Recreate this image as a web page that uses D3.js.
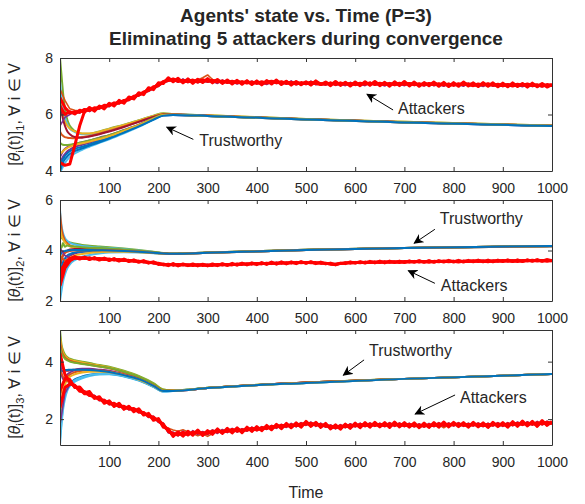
<!DOCTYPE html>
<meta charset="utf-8">
<script src="https://d3js.org/d3.v7.min.js"></script>
<style>
  body { margin: 0; background: #fff; }
  text { font-family: "Liberation Sans", Arial, Helvetica, sans-serif; fill: #262626; }
</style>
<div id="chart"></div>
<script>

// sample times
var tTrust = [0, 3, 6, 10, 15, 20, 30, 45, 60, 80, 100, 130, 160, 190, 210, 230, 300, 500, 700, 1000];
var tAtt = d3.range(0, 1001, 10);
var xTicks = [100, 200, 300, 400, 500, 600, 700, 800, 900, 1000];

// ---- component 1 ----
var yTicks1 = [4, 6, 8];
var trust1 = [
  [8.0, 7.4, 6.8, 6.2, 5.8, 5.6, 5.42, 5.32, 5.32, 5.4, 5.5, 5.64, 5.8, 5.96, 6.04, 6.02, 5.97, 5.84, 5.74, 5.61],
  [7.2, 6.6, 6.2, 5.9, 5.65, 5.5, 5.38, 5.3, 5.3, 5.38, 5.48, 5.62, 5.78, 5.94, 6.02, 6.01, 5.96, 5.83, 5.73, 5.6],
  [6.6, 6.2, 5.95, 5.75, 5.6, 5.5, 5.4, 5.33, 5.33, 5.39, 5.49, 5.63, 5.79, 5.95, 6.03, 6.01, 5.97, 5.84, 5.74, 5.61],
  [5.4, 5.3, 5.25, 5.2, 5.18, 5.17, 5.16, 5.2, 5.24, 5.32, 5.42, 5.58, 5.75, 5.92, 6.01, 6.0, 5.96, 5.83, 5.73, 5.6],
  [6.4, 6.1, 5.85, 5.6, 5.4, 5.3, 5.2, 5.18, 5.22, 5.3, 5.4, 5.56, 5.74, 5.91, 6.0, 6.0, 5.96, 5.83, 5.73, 5.6],
  [4.5, 4.6, 4.7, 4.78, 4.85, 4.9, 4.96, 5.02, 5.08, 5.18, 5.27, 5.45, 5.64, 5.86, 5.98, 5.99, 5.95, 5.83, 5.73, 5.6],
  [4.0, 4.05, 4.15, 4.28, 4.4, 4.5, 4.62, 4.75, 4.86, 5.0, 5.12, 5.33, 5.56, 5.81, 5.96, 5.98, 5.95, 5.82, 5.72, 5.59],
  [4.3, 4.4, 4.5, 4.6, 4.7, 4.76, 4.85, 4.93, 5.0, 5.1, 5.2, 5.4, 5.6, 5.84, 5.97, 5.98, 5.95, 5.82, 5.72, 5.59],
  [4.2, 4.3, 4.42, 4.53, 4.63, 4.7, 4.78, 4.86, 4.94, 5.06, 5.18, 5.38, 5.59, 5.83, 5.97, 5.98, 5.95, 5.82, 5.72, 5.59],
  [5.0, 4.95, 4.93, 4.92, 4.92, 4.93, 4.96, 5.02, 5.08, 5.17, 5.27, 5.44, 5.63, 5.87, 5.99, 5.99, 5.95, 5.83, 5.73, 5.6],
  [4.6, 4.65, 4.7, 4.76, 4.82, 4.86, 4.92, 4.98, 5.04, 5.13, 5.23, 5.42, 5.62, 5.85, 5.98, 5.99, 5.95, 5.82, 5.72, 5.6],
  [4.0, 4.15, 4.3, 4.42, 4.52, 4.6, 4.7, 4.8, 4.9, 5.02, 5.15, 5.36, 5.58, 5.82, 5.96, 5.98, 5.95, 5.82, 5.72, 5.59]
];
var att1 = [
  [6.9, 6.5, 6.2, 6.15, 6.12, 6.14, 6.21, 6.19, 6.28, 6.27,
   6.37, 6.36, 6.44, 6.5, 6.54, 6.64, 6.7, 6.79, 6.86, 6.95,
   7.06, 7.14, 7.24, 7.19, 7.23, 7.17, 7.24, 7.18, 7.22, 7.3,
   7.4, 7.24, 7.16, 7.2, 7.15, 7.19, 7.14, 7.18, 7.12, 7.17,
   7.12, 7.15, 7.1, 7.16, 7.13, 7.17, 7.12, 7.16, 7.1, 7.12,
   7.1, 7.13, 7.08, 7.12, 7.09, 7.1, 7.07, 7.11, 7.06, 7.11,
   7.07, 7.1, 7.06, 7.11, 7.08, 7.09, 7.07, 7.11, 7.06, 7.09,
   7.07, 7.11, 7.07, 7.1, 7.05, 7.08, 7.04, 7.1, 7.06, 7.09,
   7.05, 7.07, 7.03, 7.09, 7.04, 7.07, 7.02, 7.06, 7.05, 7.03,
   7.06, 7.03, 7.07, 7.04, 7.02, 7.05, 7.03, 7.07, 7.02, 7.04,
   7.02],
  [5.6, 5.9, 6.0, 6.1, 6.05, 6.2, 6.1, 6.22, 6.2, 6.3,
   6.28, 6.42, 6.38, 6.48, 6.5, 6.62, 6.66, 6.75, 6.82, 6.92,
   7.0, 7.12, 7.18, 7.22, 7.14, 7.26, 7.13, 7.2, 7.12, 7.19,
   7.14, 7.18, 7.1, 7.22, 7.11, 7.16, 7.08, 7.15, 7.13, 7.18,
   7.08, 7.13, 7.06, 7.16, 7.1, 7.14, 7.07, 7.19, 7.05, 7.11,
   7.06, 7.18, 7.05, 7.1, 7.04, 7.13, 7.03, 7.09, 7.02, 7.14,
   7.03, 7.09, 7.02, 7.14, 7.04, 7.08, 7.01, 7.13, 7.03, 7.07,
   7.02, 7.12, 7.03, 7.07, 7.01, 7.11, 7.02, 7.06, 7.0, 7.1,
   7.02, 7.06, 7.0, 7.11, 7.01, 7.05, 6.99, 7.1, 7.0, 7.04,
   6.99, 7.09, 7.0, 7.04, 6.98, 7.08, 6.99, 7.03, 6.98, 7.07,
   7.0],
  [4.3, 4.2, 4.25, 4.9, 5.6, 6.12, 6.2, 6.16, 6.27, 6.26,
   6.36, 6.35, 6.45, 6.46, 6.57, 6.6, 6.72, 6.76, 6.9, 6.93,
   7.08, 7.13, 7.25, 7.2, 7.24, 7.15, 7.22, 7.17, 7.21, 7.16,
   7.23, 7.17, 7.2, 7.14, 7.18, 7.12, 7.17, 7.11, 7.16, 7.1,
   7.15, 7.09, 7.14, 7.18, 7.12, 7.16, 7.1, 7.14, 7.08, 7.13,
   7.09, 7.14, 7.1, 7.06, 7.12, 7.08, 7.13, 7.07, 7.11, 7.05,
   7.1, 7.06, 7.12, 7.08, 7.13, 7.07, 7.1, 7.05, 7.11, 7.07,
   7.12, 7.06, 7.1, 7.04, 7.09, 7.06, 7.11, 7.05, 7.09, 7.03,
   7.08, 7.04, 7.1, 7.06, 7.02, 7.08, 7.04, 7.09, 7.03, 7.07,
   7.02, 7.06, 7.01, 7.07, 7.03, 7.08, 7.02, 7.05, 7.0, 7.06,
   7.03],
  [6.6, 6.25, 6.05, 6.1, 6.08, 6.18, 6.14, 6.24, 6.22, 6.33,
   6.31, 6.41, 6.4, 6.5, 6.52, 6.65, 6.68, 6.8, 6.85, 6.98,
   7.02, 7.17, 7.2, 7.26, 7.17, 7.21, 7.16, 7.22, 7.15, 7.23,
   7.17, 7.21, 7.15, 7.19, 7.13, 7.18, 7.12, 7.16, 7.11, 7.15,
   7.1, 7.16, 7.11, 7.15, 7.17, 7.11, 7.15, 7.09, 7.14, 7.08,
   7.12, 7.08, 7.13, 7.09, 7.07, 7.12, 7.06, 7.12, 7.07, 7.1,
   7.06, 7.11, 7.07, 7.12, 7.06, 7.11, 7.06, 7.1, 7.05, 7.11,
   7.06, 7.1, 7.05, 7.09, 7.04, 7.1, 7.05, 7.09, 7.04, 7.08,
   7.03, 7.09, 7.05, 7.08, 7.06, 7.03, 7.08, 7.03, 7.07, 7.02,
   7.07, 7.02, 7.06, 7.02, 7.07, 7.02, 7.06, 7.01, 7.06, 7.02,
   7.05],
  [6.3, 6.0, 6.1, 6.02, 6.15, 6.08, 6.25, 6.12, 6.3, 6.2,
   6.4, 6.3, 6.5, 6.4, 6.62, 6.55, 6.77, 6.7, 6.95, 6.88,
   7.12, 7.1, 7.3, 7.16, 7.28, 7.12, 7.26, 7.1, 7.25, 7.13,
   7.27, 7.12, 7.24, 7.1, 7.22, 7.08, 7.21, 7.07, 7.2, 7.06,
   7.19, 7.05, 7.2, 7.08, 7.22, 7.06, 7.18, 7.04, 7.17, 7.05,
   7.16, 7.04, 7.19, 7.06, 7.15, 7.02, 7.17, 7.03, 7.14, 7.01,
   7.15, 7.02, 7.16, 7.03, 7.17, 7.02, 7.14, 7.0, 7.16, 7.02,
   7.17, 7.01, 7.15, 7.0, 7.13, 7.02, 7.15, 7.0, 7.14, 6.99,
   7.13, 7.0, 7.15, 7.01, 7.12, 6.99, 7.13, 7.0, 7.12, 6.98,
   7.11, 6.98, 7.12, 6.99, 7.1, 6.97, 7.11, 6.98, 7.1, 6.97,
   7.06]
];

// ---- component 2 ----
var yTicks2 = [2, 4, 6];
var trust2 = [
  [4.6, 4.5, 4.45, 4.4, 4.35, 4.32, 4.28, 4.22, 4.19, 4.16, 4.13, 4.08, 4.02, 3.95, 3.9, 3.88, 3.92, 4.03, 4.1, 4.18],
  [5.6, 5.0, 4.7, 4.5, 4.38, 4.3, 4.24, 4.18, 4.15, 4.12, 4.1, 4.06, 4.0, 3.94, 3.89, 3.87, 3.92, 4.03, 4.1, 4.18],
  [5.5, 4.9, 4.6, 4.4, 4.28, 4.2, 4.14, 4.1, 4.08, 4.07, 4.06, 4.02, 3.98, 3.93, 3.89, 3.87, 3.92, 4.03, 4.1, 4.18],
  [4.9, 4.6, 4.45, 4.32, 4.22, 4.16, 4.11, 4.08, 4.07, 4.06, 4.05, 4.01, 3.97, 3.92, 3.88, 3.87, 3.91, 4.02, 4.1, 4.18],
  [3.3, 3.6, 3.8, 3.92, 4.0, 4.04, 4.06, 4.06, 4.05, 4.04, 4.03, 4.0, 3.96, 3.92, 3.88, 3.87, 3.91, 4.02, 4.1, 4.18],
  [2.4, 2.9, 3.25, 3.5, 3.68, 3.78, 3.88, 3.94, 3.97, 3.99, 4.0, 3.98, 3.95, 3.91, 3.88, 3.86, 3.91, 4.02, 4.1, 4.17],
  [3.0, 3.3, 3.52, 3.68, 3.8, 3.86, 3.92, 3.95, 3.96, 3.97, 3.97, 3.96, 3.94, 3.9, 3.87, 3.86, 3.91, 4.02, 4.1, 4.17],
  [2.0, 2.4, 2.75, 3.05, 3.3, 3.45, 3.62, 3.75, 3.82, 3.88, 3.92, 3.93, 3.92, 3.89, 3.86, 3.86, 3.91, 4.02, 4.1, 4.17],
  [4.2, 4.1, 4.3, 4.15, 4.2, 4.18, 4.16, 4.13, 4.11, 4.1, 4.08, 4.04, 3.99, 3.94, 3.89, 3.87, 3.92, 4.03, 4.1, 4.18],
  [2.6, 3.0, 3.3, 3.5, 3.64, 3.72, 3.8, 3.86, 3.9, 3.93, 3.95, 3.95, 3.93, 3.9, 3.87, 3.86, 3.91, 4.02, 4.1, 4.17],
  [3.5, 3.7, 3.82, 3.9, 3.95, 3.98, 4.0, 4.01, 4.01, 4.01, 4.01, 3.99, 3.96, 3.91, 3.88, 3.86, 3.91, 4.02, 4.1, 4.17],
  [3.8, 3.9, 3.95, 3.98, 4.0, 4.01, 4.02, 4.02, 4.02, 4.01, 4.0, 3.98, 3.95, 3.91, 3.88, 3.87, 3.91, 4.02, 4.1, 4.18]
];
var att2 = [
  [3.8, 3.6, 3.66, 3.69, 3.73, 3.7, 3.72, 3.68, 3.66, 3.66,
   3.64, 3.63, 3.62, 3.61, 3.6, 3.58, 3.57, 3.55, 3.53, 3.51,
   3.47, 3.44, 3.44, 3.44, 3.43, 3.44, 3.42, 3.43, 3.43, 3.43,
   3.42, 3.43, 3.43, 3.44, 3.44, 3.45, 3.45, 3.46, 3.47, 3.47,
   3.48, 3.48, 3.49, 3.49, 3.5, 3.5, 3.5, 3.51, 3.51, 3.52,
   3.52, 3.52, 3.51, 3.51, 3.5, 3.48, 3.47, 3.49, 3.51, 3.51,
   3.52, 3.52, 3.53, 3.53, 3.54, 3.54, 3.54, 3.54, 3.55, 3.55,
   3.55, 3.55, 3.56, 3.56, 3.56, 3.56, 3.56, 3.57, 3.57, 3.57,
   3.57, 3.57, 3.58, 3.58, 3.58, 3.58, 3.58, 3.58, 3.59, 3.59,
   3.59, 3.59, 3.59, 3.6, 3.6, 3.6, 3.6, 3.6, 3.61, 3.61,
   3.62],
  [4.1, 3.8, 3.72, 3.66, 3.72, 3.67, 3.73, 3.66, 3.7, 3.63,
   3.67, 3.6, 3.65, 3.58, 3.62, 3.56, 3.59, 3.52, 3.55, 3.48,
   3.5, 3.42, 3.47, 3.4, 3.46, 3.41, 3.45, 3.4, 3.46, 3.41,
   3.45, 3.4, 3.46, 3.41, 3.47, 3.42, 3.48, 3.43, 3.49, 3.45,
   3.5, 3.46, 3.51, 3.47, 3.53, 3.48, 3.53, 3.49, 3.54, 3.5,
   3.54, 3.5, 3.53, 3.49, 3.51, 3.46, 3.48, 3.47, 3.53, 3.49,
   3.55, 3.5, 3.55, 3.51, 3.56, 3.51, 3.57, 3.52, 3.57, 3.52,
   3.58, 3.53, 3.58, 3.53, 3.59, 3.54, 3.59, 3.54, 3.59, 3.55,
   3.6, 3.55, 3.6, 3.55, 3.6, 3.56, 3.61, 3.56, 3.61, 3.56,
   3.61, 3.57, 3.62, 3.57, 3.62, 3.58, 3.62, 3.58, 3.63, 3.58,
   3.63],
  [3.2, 3.45, 3.62, 3.7, 3.68, 3.71, 3.67, 3.69, 3.65, 3.67,
   3.63, 3.65, 3.61, 3.63, 3.59, 3.6, 3.56, 3.57, 3.52, 3.53,
   3.48, 3.45, 3.43, 3.46, 3.42, 3.45, 3.41, 3.44, 3.42, 3.45,
   3.41, 3.44, 3.42, 3.46, 3.43, 3.46, 3.44, 3.48, 3.45, 3.49,
   3.47, 3.5, 3.47, 3.51, 3.48, 3.52, 3.49, 3.53, 3.5, 3.54,
   3.51, 3.53, 3.5, 3.52, 3.49, 3.47, 3.45, 3.49, 3.52, 3.5,
   3.53, 3.51, 3.54, 3.52, 3.55, 3.52, 3.56, 3.53, 3.55, 3.52,
   3.56, 3.54, 3.57, 3.54, 3.56, 3.53, 3.57, 3.55, 3.58, 3.55,
   3.57, 3.54, 3.58, 3.56, 3.59, 3.56, 3.58, 3.55, 3.59, 3.57,
   3.6, 3.57, 3.59, 3.56, 3.6, 3.58, 3.61, 3.58, 3.6, 3.57,
   3.61],
  [2.6, 3.3, 3.58, 3.72, 3.71, 3.68, 3.7, 3.66, 3.68, 3.64,
   3.66, 3.62, 3.64, 3.6, 3.61, 3.57, 3.58, 3.54, 3.54, 3.5,
   3.5, 3.43, 3.46, 3.42, 3.45, 3.43, 3.44, 3.41, 3.44, 3.41,
   3.43, 3.41, 3.45, 3.43, 3.45, 3.43, 3.47, 3.45, 3.48, 3.46,
   3.49, 3.47, 3.5, 3.48, 3.51, 3.49, 3.52, 3.5, 3.53, 3.51,
   3.53, 3.51, 3.52, 3.49, 3.5, 3.46, 3.46, 3.48, 3.5, 3.52,
   3.51, 3.53, 3.52, 3.54, 3.53, 3.55, 3.53, 3.55, 3.54, 3.56,
   3.54, 3.56, 3.55, 3.57, 3.55, 3.57, 3.55, 3.57, 3.56, 3.58,
   3.56, 3.58, 3.56, 3.58, 3.57, 3.59, 3.57, 3.59, 3.57, 3.59,
   3.58, 3.6, 3.58, 3.6, 3.58, 3.61, 3.59, 3.61, 3.59, 3.62,
   3.6],
  [2.9, 3.5, 3.68, 3.76, 3.66, 3.74, 3.64, 3.72, 3.62, 3.7,
   3.6, 3.68, 3.58, 3.66, 3.56, 3.63, 3.53, 3.6, 3.5, 3.55,
   3.45, 3.47, 3.4, 3.48, 3.39, 3.47, 3.4, 3.47, 3.39, 3.46,
   3.39, 3.47, 3.4, 3.48, 3.41, 3.49, 3.42, 3.5, 3.43, 3.51,
   3.44, 3.52, 3.45, 3.54, 3.46, 3.55, 3.47, 3.55, 3.48, 3.56,
   3.49, 3.56, 3.48, 3.54, 3.47, 3.5, 3.43, 3.5, 3.48, 3.55,
   3.5, 3.56, 3.5, 3.57, 3.51, 3.58, 3.51, 3.58, 3.52, 3.58,
   3.52, 3.59, 3.53, 3.6, 3.53, 3.6, 3.53, 3.6, 3.54, 3.61,
   3.54, 3.61, 3.54, 3.61, 3.55, 3.62, 3.55, 3.62, 3.55, 3.62,
   3.56, 3.63, 3.56, 3.63, 3.56, 3.63, 3.57, 3.64, 3.57, 3.64,
   3.58]
];

// ---- component 3 ----
var yTicks3 = [2, 4];
var trust3 = [
  [5.1, 4.6, 4.4, 4.25, 4.15, 4.1, 4.05, 4.0, 3.95, 3.88, 3.82, 3.68, 3.5, 3.25, 3.03, 3.0, 3.09, 3.27, 3.4, 3.57],
  [4.9, 4.5, 4.32, 4.2, 4.12, 4.07, 4.02, 3.97, 3.92, 3.86, 3.8, 3.66, 3.48, 3.23, 3.02, 3.0, 3.09, 3.27, 3.4, 3.57],
  [4.7, 4.4, 4.25, 4.15, 4.08, 4.03, 3.98, 3.93, 3.89, 3.83, 3.77, 3.63, 3.46, 3.21, 3.01, 2.99, 3.08, 3.27, 3.4, 3.57],
  [4.4, 4.0, 3.8, 3.7, 3.68, 3.7, 3.72, 3.74, 3.73, 3.7, 3.66, 3.54, 3.4, 3.18, 3.0, 2.99, 3.08, 3.27, 3.4, 3.57],
  [4.2, 3.6, 3.4, 3.45, 3.55, 3.62, 3.7, 3.75, 3.75, 3.72, 3.68, 3.56, 3.41, 3.18, 2.99, 2.99, 3.08, 3.27, 3.4, 3.57],
  [1.1, 1.8, 2.3, 2.7, 3.0, 3.15, 3.3, 3.42, 3.5, 3.55, 3.56, 3.48, 3.34, 3.12, 2.97, 2.98, 3.08, 3.26, 3.4, 3.57],
  [1.7, 2.2, 2.6, 2.9, 3.12, 3.25, 3.38, 3.48, 3.54, 3.58, 3.58, 3.5, 3.36, 3.13, 2.97, 2.98, 3.08, 3.26, 3.4, 3.57],
  [1.3, 1.9, 2.4, 2.8, 3.05, 3.2, 3.35, 3.46, 3.53, 3.57, 3.57, 3.49, 3.35, 3.12, 2.96, 2.98, 3.08, 3.26, 3.4, 3.57],
  [4.5, 4.3, 4.2, 4.1, 4.04, 4.0, 3.96, 3.92, 3.88, 3.83, 3.78, 3.65, 3.48, 3.23, 3.02, 3.0, 3.09, 3.27, 3.4, 3.57],
  [2.8, 3.0, 3.2, 3.35, 3.48, 3.55, 3.63, 3.68, 3.7, 3.69, 3.66, 3.55, 3.4, 3.17, 2.99, 2.99, 3.08, 3.27, 3.4, 3.57],
  [2.2, 2.6, 2.95, 3.2, 3.38, 3.47, 3.56, 3.62, 3.65, 3.65, 3.63, 3.53, 3.38, 3.15, 2.98, 2.99, 3.08, 3.26, 3.4, 3.57],
  [3.6, 3.65, 3.68, 3.7, 3.71, 3.72, 3.72, 3.72, 3.71, 3.68, 3.64, 3.53, 3.39, 3.16, 2.98, 2.98, 3.08, 3.26, 3.4, 3.57]
];
var att3 = [
  [3.7, 3.35, 3.26, 3.15, 3.02, 2.92, 2.86, 2.77, 2.71, 2.61,
   2.57, 2.5, 2.47, 2.41, 2.38, 2.33, 2.28, 2.19, 2.12, 2.03,
   1.95, 1.8, 1.68, 1.62, 1.58, 1.63, 1.55, 1.5, 1.42, 1.48,
   1.4, 1.5, 1.57, 1.6, 1.58, 1.62, 1.6, 1.64, 1.62, 1.66,
   1.64, 1.68, 1.7, 1.72, 1.74, 1.76, 1.77, 1.78, 1.8, 1.82,
   1.83, 1.82, 1.8, 1.78, 1.77, 1.74, 1.73, 1.74, 1.76, 1.77,
   1.79, 1.78, 1.8, 1.79, 1.8, 1.81, 1.79, 1.8, 1.82, 1.8,
   1.81, 1.79, 1.8, 1.78, 1.79, 1.78, 1.8, 1.81, 1.7, 1.8,
   1.82, 1.81, 1.8, 1.81, 1.82, 1.8, 1.81, 1.8, 1.82, 1.81,
   1.82, 1.81, 1.83, 1.82, 1.84, 1.83, 1.85, 1.84, 1.86, 1.85,
   1.87],
  [1.8, 2.9, 3.2, 3.2, 3.0, 2.98, 2.8, 2.83, 2.64, 2.68,
   2.5, 2.53, 2.41, 2.44, 2.32, 2.36, 2.22, 2.25, 2.06, 2.1,
   1.88, 1.86, 1.52, 1.55, 1.42, 1.58, 1.43, 1.6, 1.47, 1.57,
   1.46, 1.63, 1.5, 1.64, 1.53, 1.68, 1.55, 1.67, 1.58, 1.72,
   1.6, 1.74, 1.64, 1.78, 1.68, 1.82, 1.71, 1.85, 1.73, 1.88,
   1.78, 1.9, 1.75, 1.86, 1.72, 1.8, 1.66, 1.81, 1.7, 1.84,
   1.73, 1.86, 1.74, 1.87, 1.75, 1.86, 1.74, 1.88, 1.75, 1.87,
   1.74, 1.86, 1.73, 1.84, 1.72, 1.85, 1.74, 1.88, 1.75, 1.87,
   1.76, 1.88, 1.75, 1.86, 1.76, 1.87, 1.74, 1.86, 1.76, 1.88,
   1.75, 1.88, 1.77, 1.9, 1.78, 1.91, 1.79, 1.92, 1.8, 1.93,
   1.84],
  [4.3, 3.55, 3.3, 3.12, 3.04, 2.88, 2.88, 2.74, 2.73, 2.58,
   2.6, 2.48, 2.5, 2.38, 2.41, 2.3, 2.31, 2.17, 2.15, 2.0,
   1.98, 1.76, 1.62, 1.43, 1.52, 1.46, 1.51, 1.49, 1.58, 1.47,
   1.56, 1.52, 1.62, 1.53, 1.63, 1.56, 1.66, 1.57, 1.68, 1.62,
   1.69, 1.64, 1.74, 1.67, 1.78, 1.71, 1.8, 1.74, 1.82, 1.76,
   1.88, 1.79, 1.85, 1.76, 1.81, 1.7, 1.75, 1.69, 1.79, 1.72,
   1.81, 1.74, 1.83, 1.76, 1.84, 1.77, 1.83, 1.75, 1.85, 1.77,
   1.83, 1.76, 1.82, 1.74, 1.81, 1.75, 1.83, 1.76, 1.85, 1.77,
   1.84, 1.78, 1.83, 1.76, 1.84, 1.77, 1.82, 1.75, 1.84, 1.78,
   1.83, 1.76, 1.86, 1.79, 1.88, 1.8, 1.87, 1.79, 1.9, 1.82,
   1.88],
  [2.4, 3.1, 3.22, 3.18, 2.97, 2.95, 2.82, 2.8, 2.67, 2.66,
   2.53, 2.55, 2.44, 2.45, 2.35, 2.37, 2.25, 2.23, 2.09, 2.07,
   1.93, 1.83, 1.57, 1.5, 1.45, 1.54, 1.45, 1.55, 1.52, 1.53,
   1.5, 1.59, 1.55, 1.59, 1.57, 1.64, 1.58, 1.63, 1.61, 1.69,
   1.62, 1.71, 1.67, 1.75, 1.72, 1.79, 1.75, 1.81, 1.77, 1.84,
   1.82, 1.86, 1.79, 1.82, 1.75, 1.76, 1.7, 1.77, 1.73, 1.8,
   1.76, 1.82, 1.77, 1.83, 1.78, 1.82, 1.77, 1.84, 1.78, 1.83,
   1.77, 1.82, 1.76, 1.8, 1.75, 1.81, 1.77, 1.84, 1.78, 1.83,
   1.79, 1.84, 1.78, 1.82, 1.79, 1.83, 1.77, 1.82, 1.79, 1.84,
   1.78, 1.84, 1.8, 1.86, 1.81, 1.87, 1.82, 1.88, 1.83, 1.89,
   1.85],
  [3.0, 3.4, 3.38, 3.1, 3.12, 2.92, 2.96, 2.72, 2.78, 2.55,
   2.64, 2.44, 2.55, 2.34, 2.45, 2.26, 2.36, 2.14, 2.2, 1.96,
   2.02, 1.72, 1.66, 1.4, 1.56, 1.41, 1.58, 1.44, 1.62, 1.43,
   1.6, 1.47, 1.66, 1.5, 1.68, 1.52, 1.7, 1.53, 1.72, 1.57,
   1.74, 1.6, 1.78, 1.63, 1.82, 1.67, 1.85, 1.7, 1.87, 1.72,
   1.92, 1.75, 1.89, 1.71, 1.85, 1.66, 1.8, 1.65, 1.83, 1.68,
   1.86, 1.7, 1.88, 1.72, 1.89, 1.73, 1.88, 1.71, 1.9, 1.73,
   1.88, 1.72, 1.87, 1.7, 1.86, 1.71, 1.88, 1.72, 1.9, 1.73,
   1.89, 1.74, 1.88, 1.72, 1.89, 1.73, 1.87, 1.71, 1.89, 1.74,
   1.88, 1.72, 1.91, 1.75, 1.93, 1.76, 1.92, 1.75, 1.95, 1.78,
   1.92]
];

// MATLAB default line colours
var cB = "#0072BD", cO = "#D95319", cY = "#EDB120", cP = "#7E2F8E",
    cG = "#77AC30", cL = "#4DBEEE", cR = "#A2142F";
var trustColors = [
  [cG, cL, cY, cO, cR, cP, cL, cP, cB, cG, cY, cB],
  [cG, cL, cO, cY, cR, cP, cB, cL, cG, cY, cO, cB],
  [cG, cY, cO, cR, cP, cL, cB, cL, cG, cO, cY, cB]
];
var attColors = [cO, cP, "#FF0000", "#FF0000", "#FF0000"];
var attWidths = [1.6, 1.6, 3, 3, 3];

var W = 585, H = 504, left = 60, right = 552;

var panels = [
  {top: 58,  bottom: 171, domain: [4, 8],     ticks: yTicks1, trust: trust1, att: att1},
  {top: 200, bottom: 301, domain: [2, 6],     ticks: yTicks2, trust: trust2, att: att2},
  {top: 330, bottom: 445, domain: [1.1, 5.1], ticks: yTicks3, trust: trust3, att: att3}
];

// arrow notes, in data units of each panel
var notes = [
  [{text: "Attackers",   tx: 687, ty: 6.23, x1: 677, y1: 6.16, x2: 624, y2: 6.72},
   {text: "Trustworthy", tx: 283, ty: 5.1,  x1: 271, y1: 5.12, x2: 217, y2: 5.55}],
  [{text: "Trustworthy", tx: 772, ty: 5.27, x1: 762, y1: 4.84, x2: 720, y2: 4.29},
   {text: "Attackers",   tx: 774, ty: 2.6,  x1: 762, y1: 2.7,  x2: 708, y2: 3.2}],
  [{text: "Trustworthy", tx: 628, ty: 4.4,  x1: 618, y1: 4.06, x2: 576, y2: 3.53},
   {text: "Attackers",   tx: 813, ty: 2.77, x1: 803, y1: 2.84, x2: 722, y2: 2.18}]
];

var svg = d3.select("#chart").append("svg")
    .attr("width", W)
    .attr("height", H);

svg.append("defs").append("marker")
    .attr("id", "head")
    .attr("viewBox", "0 0 10 10")
    .attr("refX", 9).attr("refY", 5)
    .attr("markerWidth", 10).attr("markerHeight", 10)
    .attr("markerUnits", "userSpaceOnUse")
    .attr("orient", "auto")
  .append("path")
    .attr("d", "M0,0 L10,5 L0,10 L3,5 Z")
    .attr("fill", "#000");

var x = d3.scaleLinear().domain([0, 1000]).range([left, right]);
var fmt = d3.format("d");

panels.forEach(function(p, i) {
  var y = d3.scaleLinear().domain(p.domain).range([p.bottom, p.top]);
  var g = svg.append("g");

  g.append("clipPath").attr("id", "clip" + i)
    .append("rect")
      .attr("x", left).attr("y", p.top)
      .attr("width", right - left).attr("height", p.bottom - p.top);

  var plot = g.append("g").attr("clip-path", "url(#clip" + i + ")");

  var lineT = d3.line()
      .x(function(d, j) { return x(tTrust[j]); })
      .y(function(d) { return y(d); })
      .curve(d3.curveMonotoneX);
  p.trust.forEach(function(s, k) {
    plot.append("path")
      .attr("d", lineT(s))
      .attr("fill", "none")
      .attr("stroke", trustColors[i][k])
      .attr("stroke-width", 2);
  });

  var lineA = d3.line()
      .x(function(d, j) { return x(tAtt[j]); })
      .y(function(d) { return y(d); });
  p.att.forEach(function(s, k) {
    plot.append("path")
      .attr("d", lineA(s))
      .attr("fill", "none")
      .attr("stroke", attColors[k])
      .attr("stroke-width", attWidths[k])
      .attr("stroke-linejoin", "round");
  });

  // box with inner ticks on all sides
  var axes = [
    g.append("g").attr("transform", "translate(0," + p.bottom + ")")
      .call(d3.axisBottom(x).tickValues(xTicks).tickSize(-4).tickSizeOuter(0).tickPadding(12).tickFormat(fmt)),
    g.append("g").attr("transform", "translate(0," + p.top + ")")
      .call(d3.axisTop(x).tickValues(xTicks).tickSize(-4).tickSizeOuter(0).tickFormat("")),
    g.append("g").attr("transform", "translate(" + left + ",0)")
      .call(d3.axisLeft(y).tickValues(p.ticks).tickSize(-4).tickSizeOuter(0).tickPadding(7).tickFormat(fmt)),
    g.append("g").attr("transform", "translate(" + right + ",0)")
      .call(d3.axisRight(y).tickValues(p.ticks).tickSize(-4).tickSizeOuter(0).tickFormat(""))
  ];
  axes.forEach(function(a) {
    a.attr("font-size", 14).attr("font-family", null);
    a.selectAll("path, line").attr("stroke", "#333").attr("stroke-width", 1);
    a.selectAll("text").attr("fill", "#262626");
  });

  // y label
  var yl = g.append("text")
      .attr("transform", "translate(20," + ((p.top + p.bottom) / 2) + ") rotate(-90)")
      .attr("text-anchor", "middle")
      .attr("font-size", 16);
  yl.append("tspan").text("[");
  yl.append("tspan").attr("font-style", "italic").text("θ");
  yl.append("tspan").attr("font-size", 11).attr("dy", 4).text("i");
  yl.append("tspan").attr("dy", -4).text("(t)]");
  yl.append("tspan").attr("font-size", 11).attr("dy", 4).text(String(i + 1));
  yl.append("tspan").attr("dy", -4).text(", \u2200 i \u2208 V");

  // notes
  notes[i].forEach(function(n) {
    g.append("line")
      .attr("x1", x(n.x1)).attr("y1", y(n.y1))
      .attr("x2", x(n.x2)).attr("y2", y(n.y2))
      .attr("stroke", "#000").attr("stroke-width", 1)
      .attr("marker-end", "url(#head)");
    g.append("text")
      .attr("x", x(n.tx)).attr("y", y(n.ty))
      .attr("dy", "0.35em")
      .attr("font-size", 16)
      .text(n.text);
  });
});

// titles
svg.append("text")
    .attr("x", (left + right) / 2).attr("y", 22)
    .attr("text-anchor", "middle")
    .attr("font-size", 19).attr("font-weight", "bold")
    .text("Agents' state vs. Time (P=3)");
svg.append("text")
    .attr("x", (left + right) / 2).attr("y", 45)
    .attr("text-anchor", "middle")
    .attr("font-size", 19).attr("font-weight", "bold")
    .text("Eliminating 5 attackers during convergence");

svg.append("text")
    .attr("x", (left + right) / 2).attr("y", 498)
    .attr("text-anchor", "middle")
    .attr("font-size", 16)
    .text("Time");

</script>
